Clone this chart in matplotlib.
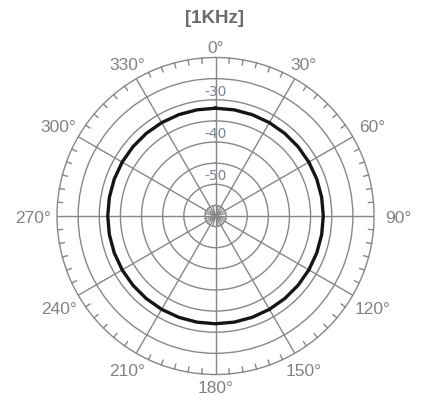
import numpy as np
import matplotlib
matplotlib.use("Agg")
import matplotlib.pyplot as plt

angle_deg = list(range(0, 361, 10))
level_db = [-34.5, -34.5, -34.5, -34.5, -34.5, -34.5, -34.5, -34.5, -34.5,
            -34.5, -34.5, -34.5, -34.5, -34.5, -34.5, -34.5, -34.5, -34.5,
            -34.5, -34.5, -34.5, -34.5, -34.5, -34.5, -34.5, -34.5, -34.5,
            -34.5, -34.5, -34.5, -34.5, -34.5, -34.5, -34.5, -34.5, -34.5,
            -34.5]

spoke_deg = [0, 30, 60, 90, 120, 150, 180, 210, 240, 270, 300, 330]
spoke_labels = ["0°", "30°", "60°", "90°", "120°", "150°", "180°",
                "210°", "240°", "270°", "300°", "330°"]
ring_db = [-57.5, -52.5, -47.5, -42.5, -37.5, -32.5, -27.5]
r_label_db = [-30, -40, -50]
r_labels = ["-30", "-40", "-50"]

R_MIN, R_MAX = -60, -22.5
GRID = "#878787"
TXT = "#828282"

plt.rcParams["font.family"] = ["Liberation Sans", "DejaVu Sans"]

fig = plt.figure(figsize=(4.30, 4.14), dpi=100)
ax = fig.add_axes([0.1326, 0.093, 0.7372, 0.7657], projection="polar")
ax.set_theta_zero_location("N")
ax.set_theta_direction(-1)
ax.set_rlim(R_MIN, R_MAX)

ax.set_xticks(np.deg2rad(spoke_deg))
ax.set_xticklabels([])
ax.set_yticks(ring_db)
ax.set_yticklabels([])
ax.grid(True, color=GRID, linewidth=1.0)
ax.tick_params(axis="both", length=0)
ax.spines["polar"].set_color(GRID)
ax.spines["polar"].set_linewidth(1.0)

px_per_db = 158.5 / (R_MAX - R_MIN)

# small inward ticks every 5 degrees on the rim
tick_len = 5 / px_per_db
for d in range(0, 360, 5):
    if d % 30:
        ax.plot([np.deg2rad(d)] * 2, [R_MAX - tick_len, R_MAX],
                color=GRID, lw=1.0, clip_on=False)

# extra short spokes inside the centre circle
for d in range(15, 360, 30):
    ax.plot([np.deg2rad(d)] * 2, [R_MIN, ring_db[0]], color=GRID, lw=0.9)

ax.plot(np.deg2rad(angle_deg), level_db, color="#151515", lw=2.4, zorder=5)

# angle labels around the rim
for d, lab in zip(spoke_deg, spoke_labels):
    r_px = 170 + 13 * abs(np.sin(np.deg2rad(d)))
    ax.text(np.deg2rad(d), R_MIN + r_px / px_per_db, lab, ha="center",
            va="center_baseline", fontsize=12.5, color=TXT, clip_on=False)

for v, lab in zip(r_label_db, r_labels):
    ax.text(0, v, lab, ha="center", va="center_baseline", fontsize=10,
            color="#7d8694", family="DejaVu Sans")

fig.text(0.5, 0.9606, "[1KHz]", ha="center", va="center_baseline",
         fontsize=13.5, fontweight="bold", color="#6b6b6b")

fig.savefig("out.png", dpi=100)
